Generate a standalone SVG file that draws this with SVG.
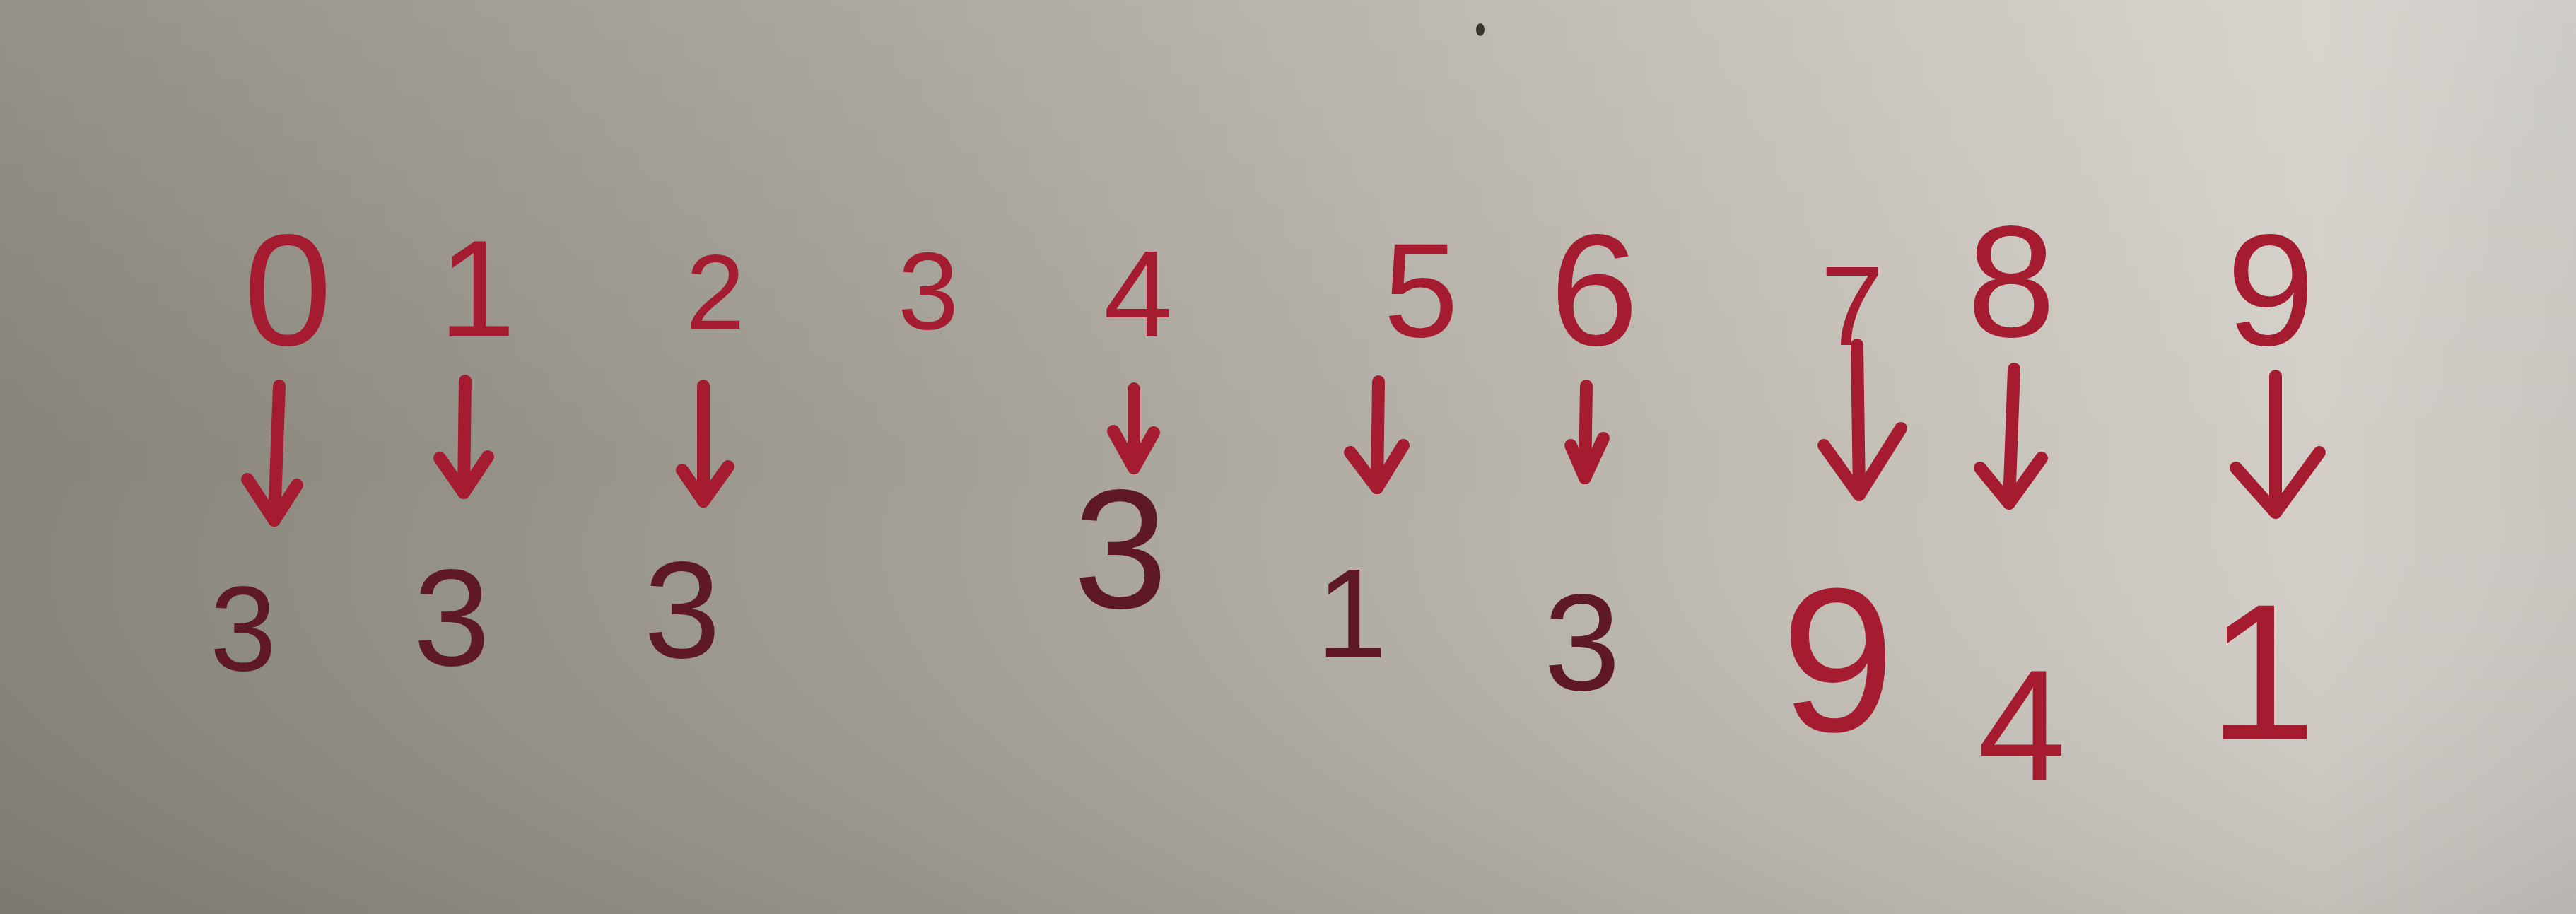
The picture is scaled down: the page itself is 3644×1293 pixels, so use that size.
<svg xmlns="http://www.w3.org/2000/svg" width="3644" height="1293" viewBox="0 0 3644 1293">
<style>
.t{font-family:"Liberation Sans","DejaVu Sans",sans-serif;text-anchor:middle;fill:#a51c30}
.d{fill:#5e1826}
.a{fill:none;stroke:#a51c30;stroke-width:18;stroke-linecap:round;stroke-linejoin:round}
</style>
<defs>
<linearGradient id="bg" x1="0" y1="0" x2="1" y2="0">
<stop offset="0" stop-color="#86837a"/>
<stop offset="0.35" stop-color="#a29e95"/>
<stop offset="0.7" stop-color="#c2beb6"/>
<stop offset="0.9" stop-color="#d3cfc8"/>
<stop offset="1" stop-color="#c8c5bf"/>
</linearGradient>
<linearGradient id="vg" x1="0" y1="0" x2="0" y2="1">
<stop offset="0" stop-color="#ffffff" stop-opacity="0.12"/>
<stop offset="0.5" stop-color="#ffffff" stop-opacity="0"/>
<stop offset="1" stop-color="#000000" stop-opacity="0.08"/>
</linearGradient>
</defs>
<rect width="3644" height="1293" fill="url(#bg)"/>
<rect width="3644" height="1293" fill="url(#vg)"/>
<ellipse cx="2094" cy="42" rx="6" ry="9" fill="#3a3530"/>

<g id="top">
<g id="n0"><text class="t" x="407" y="488" font-size="225">0</text></g>
<g id="n1"><text class="t" x="675" y="476" font-size="195">1</text></g>
<g id="n2"><text class="t" x="1012" y="465" font-size="150">2</text></g>
<g id="n3"><text class="t" x="1313" y="465" font-size="155">3</text></g>
<g id="n4"><text class="t" x="1610" y="476" font-size="175">4</text></g>
<g id="n5"><text class="t" x="2010" y="476" font-size="190">5</text></g>
<g id="n6"><text class="t" x="2255" y="488" font-size="225">6</text></g>
<g id="n7"><text class="t" x="2620" y="488" font-size="160">7</text></g>
<g id="n8"><text class="t" x="2845" y="476" font-size="225">8</text></g>
<g id="n9"><text class="t" x="3212" y="488" font-size="225">9</text></g>
</g>

<g id="connectors">
<path class="a" d="M395,546 L388,736"/>
<path class="a" d="M388,736 L350,678 M388,736 L420,686"/>
<path class="a" d="M658,539 L656,697"/>
<path class="a" d="M656,697 L622,648 M656,697 L690,646"/>
<path class="a" d="M995,546 L995,709"/>
<path class="a" d="M995,709 L965,665 M995,709 L1030,660"/>
<path class="a" d="M1604,550 L1604,662"/>
<path class="a" d="M1604,662 L1575,610 M1604,662 L1632,612"/>
<path class="a" d="M1950,540 L1948,690"/>
<path class="a" d="M1948,690 L1910,640 M1948,690 L1985,630"/>
<path class="a" d="M2244,546 L2242,676"/>
<path class="a" d="M2242,676 L2222,630 M2242,676 L2268,620"/>
<path class="a" d="M2627,488 L2630,700"/>
<path class="a" d="M2630,700 L2580,630 M2630,700 L2689,606"/>
<path class="a" d="M2849,522 L2842,712"/>
<path class="a" d="M2842,712 L2801,662 M2842,712 L2888,648"/>
<path class="a" d="M3219,532 L3219,725"/>
<path class="a" d="M3219,725 L3163,662 M3219,725 L3281,640"/>
</g>

<g id="bottom">
<g id="b0"><text class="t d" x="344" y="948" font-size="170">3</text></g>
<g id="b1"><text class="t d" x="639" y="941" font-size="195">3</text></g>
<g id="b2"><text class="t d" x="965" y="930" font-size="195">3</text></g>
<g id="b4"><text class="t d" x="1585" y="860" font-size="240">3</text></g>
<g id="b5"><text class="t d" x="1912" y="930" font-size="180">1</text></g>
<g id="b6"><text class="t d" x="2238" y="976" font-size="195">3</text></g>
<g id="b7"><text class="t" x="2600" y="1034" font-size="290">9</text></g>
<g id="b8"><text class="t" x="2860" y="1104" font-size="225">4</text></g>
<g id="b9"><text class="t" x="3200" y="1046" font-size="275">1</text></g>
</g>
</svg>
